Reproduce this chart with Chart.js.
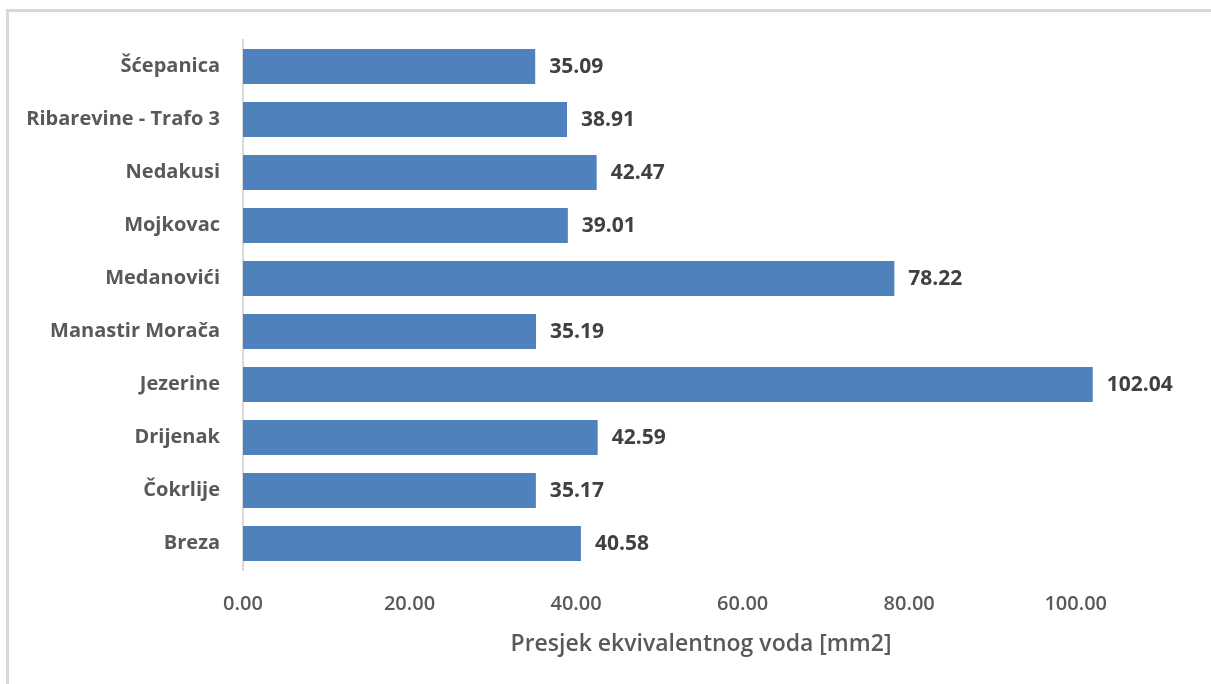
<!DOCTYPE html>
<html>
<head>
<meta charset="utf-8">
<script src="https://cdn.jsdelivr.net/npm/chart.js@4/dist/chart.umd.min.js"></script>
<style>
  html, body { margin: 0; padding: 0; background: #fff; overflow: hidden; }
  #wrap { position: relative; width: 1211px; height: 684px; }
  #frame { position: absolute; left: 6px; top: 9px; width: 1300px; height: 800px; border: 3px solid #d9d9d9; box-sizing: border-box; }
  #mycanvas { position: absolute; left: 0; top: 0; }
</style>
</head>
<body>
<div id="wrap">
  <div id="frame"></div>
  <canvas id="mycanvas" width="1211" height="684"></canvas>
</div>
<script>
var stations = ['Šćepanica', 'Ribarevine - Trafo 3', 'Nedakusi', 'Mojkovac', 'Medanovići',
	'Manastir Morača', 'Jezerine', 'Drijenak', 'Čokrlije', 'Breza'];
var presjek = [35.09, 38.91, 42.47, 39.01, 78.22, 35.19, 102.04, 42.59, 35.17, 40.58];
var xTicks = [0, 20, 40, 60, 80, 100];

var fontName = "'Open Sans', sans-serif";

// value labels to the right of each bar
var barValues = {
	id: 'barValues',
	afterDatasetsDraw: function(chart) {
		var ctx = chart.ctx;
		var meta = chart.getDatasetMeta(0);
		ctx.save();
		ctx.font = 'bold 21px ' + fontName;
		ctx.fillStyle = '#404040';
		ctx.textAlign = 'left';
		ctx.textBaseline = 'middle';
		meta.data.forEach(function(bar, i) {
			ctx.fillText(presjek[i].toFixed(2), bar.x + 14, bar.y + 1);
		});
		ctx.restore();
	}
};

var ctx = document.getElementById('mycanvas');

var barGraph = new Chart(ctx, {
	type: 'bar',
	data: {
		labels: stations,
		datasets: [{
			label: 'Presjek',
			backgroundColor: '#4f81bd',
			borderWidth: 0,
			data: presjek,
			barPercentage: 0.66,
			categoryPercentage: 1
		}]
	},
	options: {
		indexAxis: 'y',
		responsive: false,
		animation: false,
		layout: { padding: { top: 40, right: 52, left: 0, bottom: 0 } },
		plugins: {
			legend: { display: false },
			tooltip: { enabled: false }
		},
		scales: {
			x: {
				min: 0,
				max: 110,
				afterBuildTicks: function(scale) {
					scale.ticks = xTicks.map(function(v) { return { value: v }; });
				},
				afterFit: function(scale) { scale.height = 114; },
				grid: { display: false, drawTicks: false },
				border: { display: false },
				ticks: {
					padding: 22,
					color: '#595959',
					font: { family: fontName, size: 20, weight: '600' },
					callback: function(v) { return Number(v).toFixed(2); }
				},
				title: {
					display: true,
					text: 'Presjek ekvivalentnog voda [mm2]',
					color: '#595959',
					font: { family: fontName, size: 23, weight: '600' },
					padding: { top: 0, bottom: 26 }
				}
			},
			y: {
				afterFit: function(scale) { scale.width = 243; },
				grid: { display: false, drawTicks: false },
				border: { display: true, color: '#d9d9d9', width: 2 },
				ticks: {
					padding: 23,
					color: '#595959',
					font: { family: fontName, size: 20, weight: 'bold' }
				}
			}
		}
	},
	plugins: [barValues]
});
</script>
</body>
</html>
